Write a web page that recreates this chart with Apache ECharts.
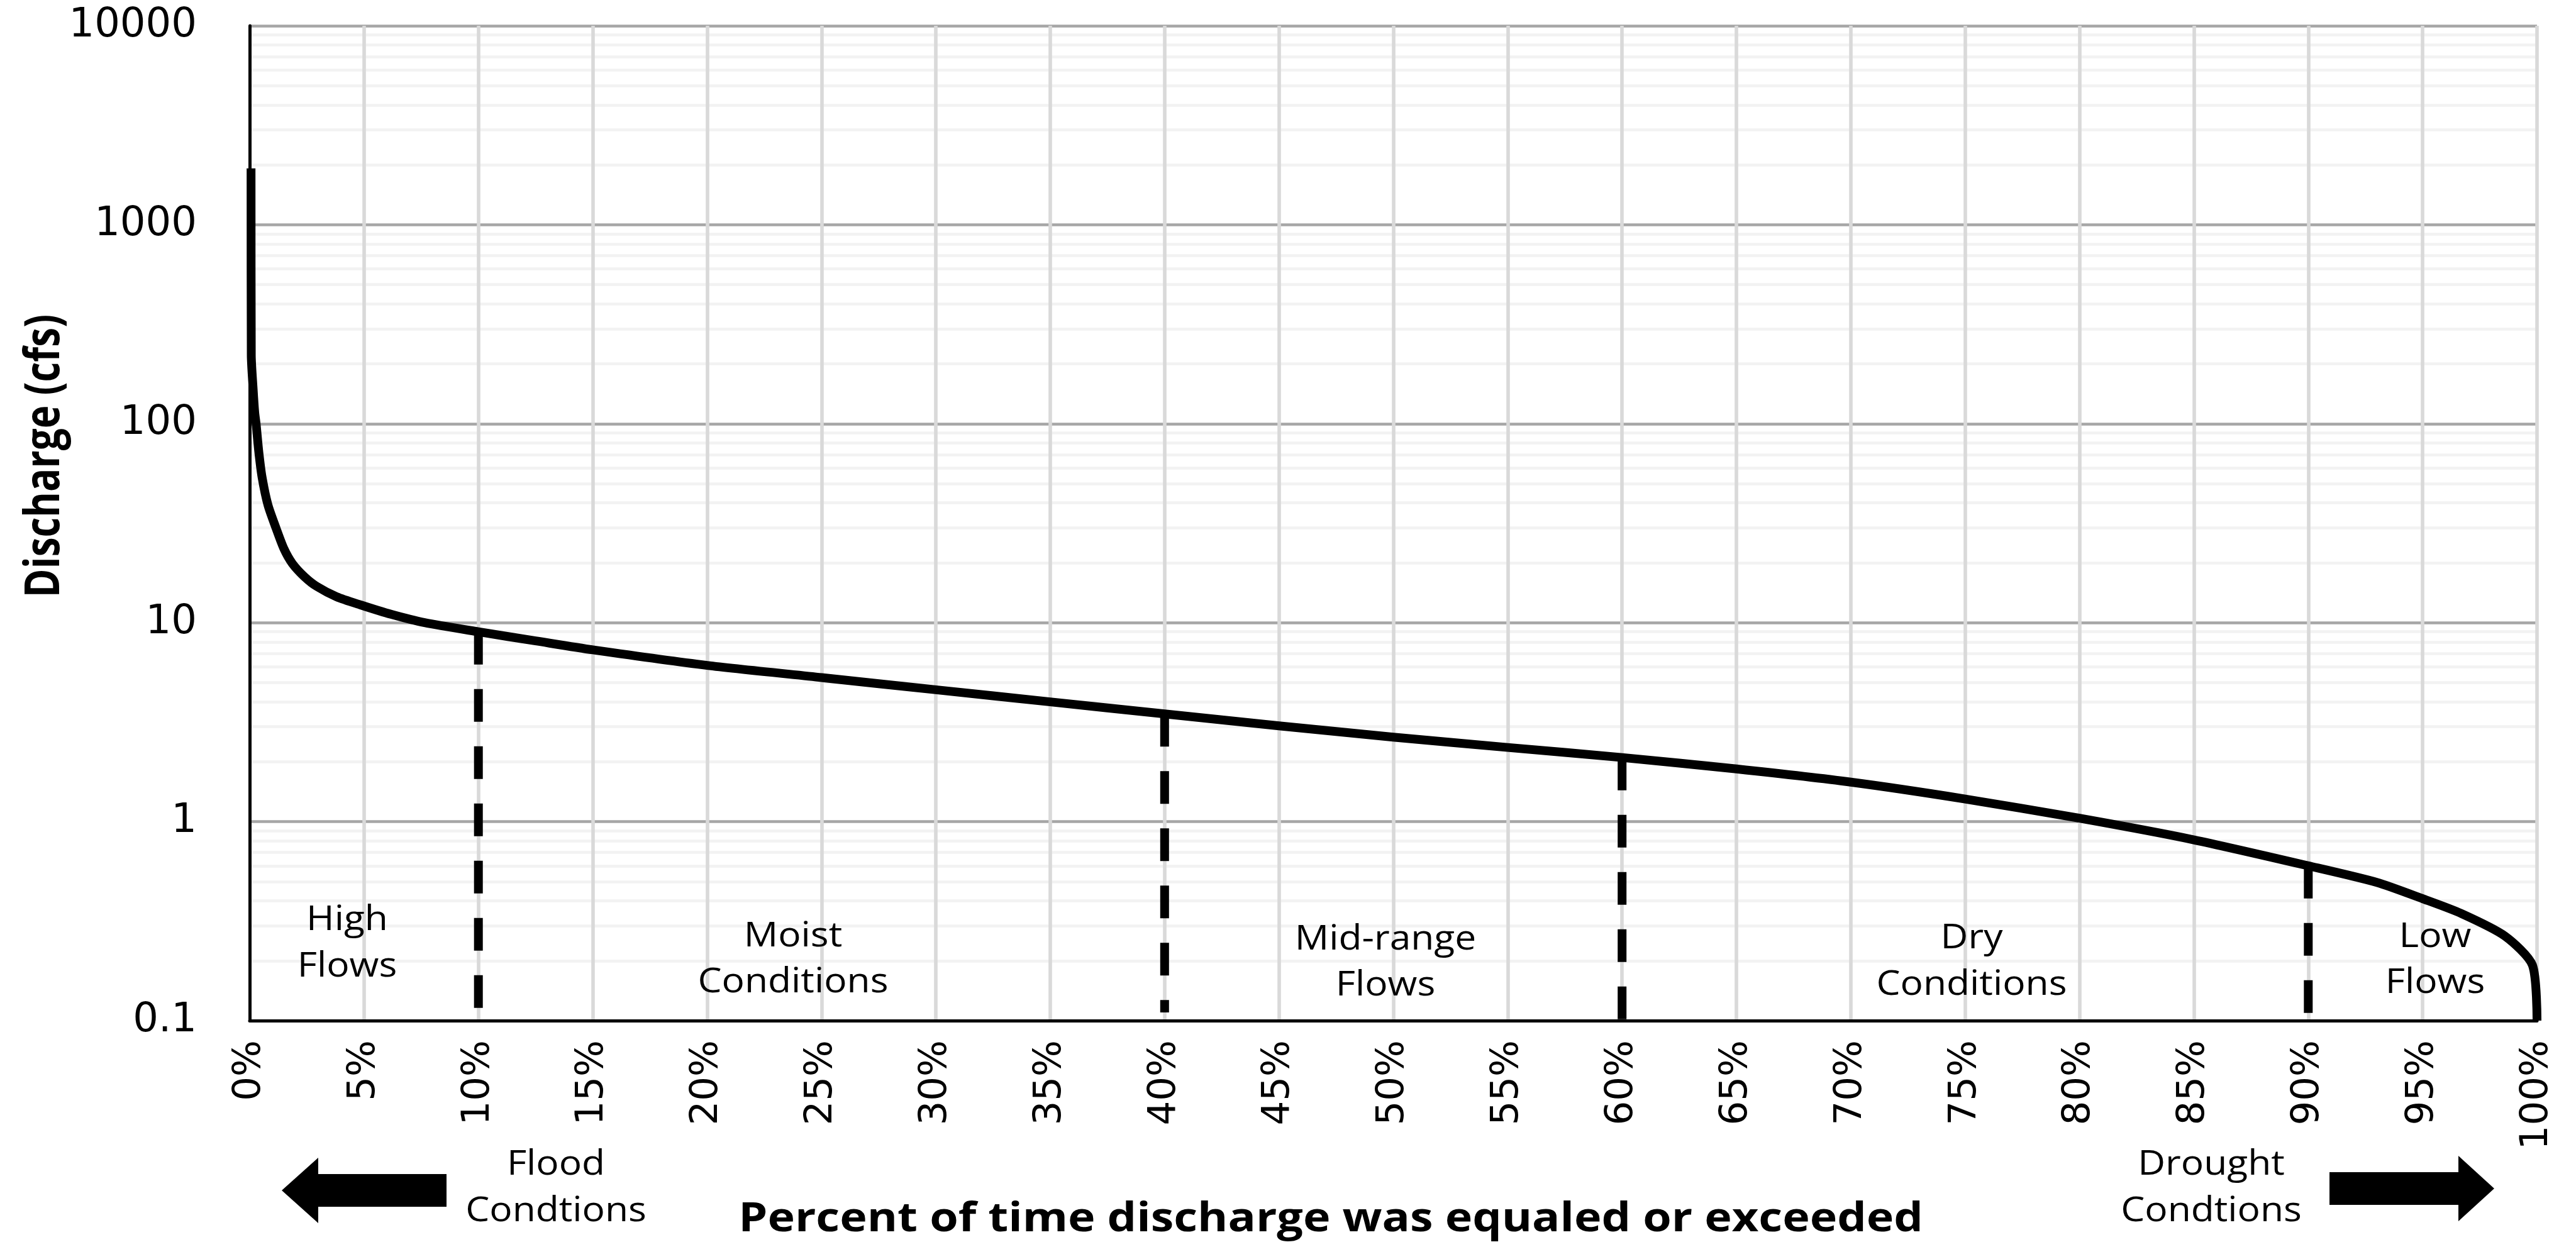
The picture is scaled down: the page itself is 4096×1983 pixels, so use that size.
<!DOCTYPE html>
<html>
<head>
<meta charset="utf-8">
<title>Flow duration curve</title>
<script src="https://cdn.jsdelivr.net/npm/echarts@6/dist/echarts.min.js"></script>
<style>
  html, body { margin: 0; padding: 0; background: #ffffff; }
  #chart { width: 4096px; height: 1983px; }
</style>
</head>
<body>
<div id="chart"></div>
<script>
// Flow duration curve: percent of time exceeded vs discharge (cfs)
const exceedancePct = [0.06, 0.07, 0.15, 0.22, 0.28, 0.4, 0.54, 0.8, 1.16, 1.5, 1.87, 2.4, 2.94, 3.8, 4.83, 6.2, 7.65,
  10, 12.5, 15, 20, 25, 30, 35, 40, 45, 50, 55, 60, 65, 70, 75, 80, 85, 90, 93, 95, 96.7, 98.6, 99.8, 100];
const dischargeCfs = [1920, 221, 150, 114, 100, 72, 54, 39, 29.7, 23.5, 19.8, 17.0, 15.2, 13.5, 12.3, 11.0, 10.0,
  9.0, 8.1, 7.3, 6.1, 5.3, 4.6, 4.0, 3.48, 3.03, 2.66, 2.36, 2.1, 1.84, 1.58, 1.3, 1.04, 0.81, 0.6, 0.495, 0.41, 0.345, 0.266, 0.19, 0.1];

// Flow-regime boundaries (dashed verticals)
const boundaryPct = [10, 40, 60, 90];
const boundaryTop = [9.0, 3.48, 2.1, 0.6];
const boundaryBottom = [0.09, 0.11, 0.1, 0.1];

// Axis ranges and gridline levels
const xTickStep = 5;
const yMin = 0.1;
const yMax = 10000;
const minorLevels = [
  0.2, 0.3, 0.4, 0.5, 0.6, 0.7, 0.8, 0.9,
  2, 3, 4, 5, 6, 7, 8, 9,
  20, 30, 40, 50, 60, 70, 80, 90,
  200, 300, 400, 500, 600, 700, 800, 900,
  2000, 3000, 4000, 5000, 6000, 7000, 8000, 9000
];

// Region labels
const regionLabels = [
  { lines: ['High', 'Flows'], x: 552, y: [1464, 1538] },
  { lines: ['Moist', 'Conditions'], x: 1261, y: [1490, 1563] },
  { lines: ['Mid-range', 'Flows'], x: 2203, y: [1495, 1568] },
  { lines: ['Dry', 'Conditions'], x: 3135, y: [1493, 1567] },
  { lines: ['Low', 'Flows'], x: 3872, y: [1491, 1564] },
  { lines: ['Flood', 'Condtions'], x: 884, y: [1853, 1927] },
  { lines: ['Drought', 'Condtions'], x: 3516, y: [1853, 1927] }
];
const xAxisTitle = 'Percent of time discharge was equaled or exceeded';
const yAxisTitle = 'Discharge (cfs)';

const chart = echarts.init(document.getElementById('chart'), null, { renderer: 'canvas' });

const curveData = exceedancePct.map((p, i) => [p, dischargeCfs[i]]);

const boundarySeries = boundaryPct.map((p, i) => ({
  type: 'line',
  data: [[p, boundaryTop[i]], [p, boundaryBottom[i]]],
  symbol: 'none',
  silent: true,
  clip: false,
  z: 4,
  lineStyle: { color: '#000000', width: 14, type: [52, 39], cap: 'butt' }
}));

const textFont = '54px "Open Sans"';
const graphics = [];
regionLabels.forEach(r => {
  r.lines.forEach((line, j) => {
    graphics.push({
      type: 'text', x: r.x, y: r.y[j], scaleX: 1.12, silent: true, z: 100,
      style: { text: line, font: textFont, fill: '#000000', align: 'center', verticalAlign: 'middle' }
    });
  });
});
// axis titles
graphics.push({
  type: 'text', x: 2116, y: 1940, scaleX: 1.15, silent: true, z: 100,
  style: { text: xAxisTitle, font: 'bold 64px "Open Sans"', fill: '#000000', align: 'center', verticalAlign: 'middle' }
});
graphics.push({
  type: 'text', x: 72, y: 725, rotation: Math.PI / 2, scaleY: 1.25, silent: true, z: 100,
  style: { text: yAxisTitle, font: 'bold 62px "Open Sans"', fill: '#000000', align: 'center', verticalAlign: 'middle' }
});
// direction arrows
graphics.push({
  type: 'polygon', silent: true, z: 100,
  shape: { points: [[448, 1893], [506, 1841], [506, 1867], [710, 1867], [710, 1919], [506, 1919], [506, 1945]] },
  style: { fill: '#000000' }
});
graphics.push({
  type: 'polygon', silent: true, z: 100,
  shape: { points: [[3966, 1890], [3909, 1838], [3909, 1864], [3704, 1864], [3704, 1916], [3909, 1916], [3909, 1942]] },
  style: { fill: '#000000' }
});

const option = {
  backgroundColor: '#ffffff',
  animation: false,
  grid: { left: 397, right: 62, top: 41, bottom: 360, containLabel: false, outerBoundsMode: 'none' },
  xAxis: {
    type: 'value',
    min: 0,
    max: 100,
    interval: xTickStep,
    z: 2,
    axisLine: { show: true, onZero: false, lineStyle: { color: '#000000', width: 5 } },
    axisTick: { show: false },
    axisLabel: {
      rotate: 90,
      margin: 31,
      formatter: '{value}%',
      fontFamily: 'DejaVu Sans',
      fontSize: 61,
      color: '#000000',
      hideOverlap: false
    },
    splitLine: { show: true, showMinLine: false, lineStyle: { color: '#D9D9D9', width: 5.6 } }
  },
  yAxis: {
    type: 'log',
    logBase: 10,
    min: yMin,
    max: yMax,
    splitNumber: 5,
    z: 1,
    axisLine: { show: true, lineStyle: { color: '#000000', width: 5 } },
    axisTick: { show: false },
    axisLabel: {
      margin: 84,
      fontFamily: 'DejaVu Sans',
      fontSize: 64,
      color: '#000000',
      formatter: v => String(+(+v).toPrecision(4))
    },
    splitLine: { show: true, lineStyle: { color: '#A6A6A6', width: 4.5 } }
  },
  series: [
    {
      type: 'line',
      data: [],
      silent: true,
      z: 0,
      markLine: {
        silent: true,
        z: 0,
        animation: false,
        symbol: ['none', 'none'],
        label: { show: false },
        emphasis: { disabled: true },
        lineStyle: { color: '#F2F2F2', width: 4.5, type: 'solid' },
        data: minorLevels.map(v => ({ yAxis: v }))
      }
    },
    ...boundarySeries,
    {
      type: 'line',
      data: curveData,
      symbol: 'none',
      silent: true,
      smooth: 0.25,
      z: 5,
      lineStyle: { color: '#000000', width: 14, join: 'round', cap: 'butt' }
    }
  ],
  graphic: graphics
};

chart.setOption(option);
</script>
</body>
</html>
